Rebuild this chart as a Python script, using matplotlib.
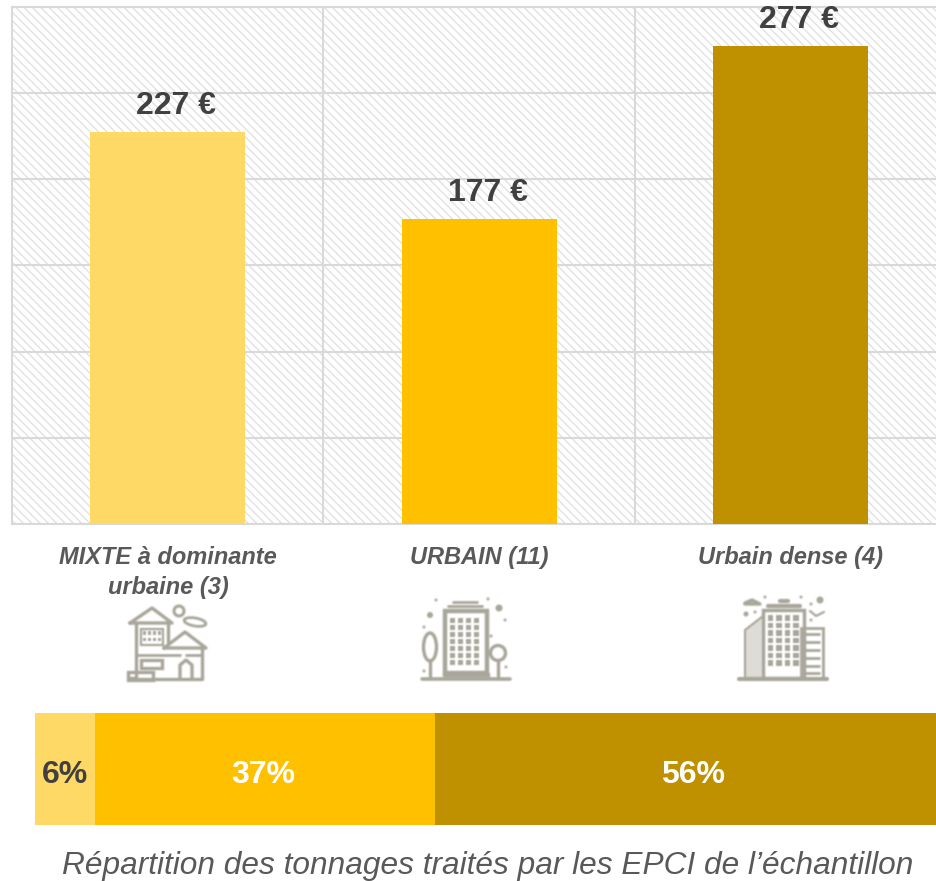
#!/usr/bin/env python

# plot.py
import matplotlib
matplotlib.use("Agg")
import matplotlib.pyplot as plt
import numpy as np
from matplotlib.patches import Circle, Ellipse, Polygon, Rectangle

plt.rcParams["font.family"] = ["Liberation Sans", "DejaVu Sans"]
plt.rcParams["hatch.linewidth"] = 1.0
plt.rcParams["hatch.color"] = "#e2e2e2"

W, H = 937, 881

categories = ["MIXTE à dominante\nurbaine (3)", "URBAIN (11)", "Urbain dense (4)"]
costs = [227, 177, 277]
cost_labels = ["227 €", "177 €", "277 €"]
shares = [6.6, 37.7, 55.7]
share_labels = ["6%", "37%", "56%"]
colors = ["#FFD966", "#FFC000", "#BF9000"]
share_text_colors = ["#404040", "white", "white"]
caption = "Répartition des tonnages traités par les EPCI de l’échantillon"

ICON = "#a9a79b"
GRID = "#d9d9d9"


def px_axes(fig, left, top, right, bottom):
    return fig.add_axes([left / W, 1 - bottom / H, (right - left) / W, (bottom - top) / H])


def line(ax, x, y, lw=2.4):
    ax.plot(x, y, color=ICON, lw=lw, solid_capstyle="round", solid_joinstyle="round")


def box(ax, x, y, w, h, lw=2.4, fill=False):
    ax.add_patch(Rectangle((x, y), w, h, fill=fill, facecolor=ICON, edgecolor=ICON, lw=lw))


def windows(ax, x0, y0, nx, ny, dx, dy, size):
    for i in range(nx):
        for j in range(ny):
            box(ax, x0 + i * dx, y0 + j * dy, size, size, lw=0, fill=True)


def house_icon(ax):
    line(ax, [130, 152, 172, 130], [623, 608, 623, 623])
    line(ax, [136, 136, 128], [623, 678, 678])
    line(ax, [168, 168], [623, 642])
    box(ax, 141, 629, 22, 16, lw=1.6)
    windows(ax, 143, 631, 4, 2, 5, 6.5, 3.5)
    line(ax, [164, 185, 206, 164], [648, 632, 648, 648])
    line(ax, [136, 180], [655, 655], lw=2)
    line(ax, [186, 202], [655, 655], lw=2)
    line(ax, [202, 202, 128], [648, 679, 679])
    box(ax, 141, 660, 21, 8)
    box(ax, 128, 672, 25, 8)
    line(ax, [180, 180, 186, 192, 192], [679, 665, 660, 665, 679])
    ax.add_patch(Circle((179, 611), 5, fill=False, edgecolor=ICON, lw=2.2))
    ax.add_patch(Ellipse((195, 622), 22, 8, angle=10, fill=False, edgecolor=ICON, lw=2))


def tower_icon(ax):
    line(ax, [448, 482], [606, 606], lw=2)
    line(ax, [453, 477], [602, 602], lw=2)
    box(ax, 445, 611, 42, 62, lw=3.2)
    windows(ax, 450, 618, 4, 7, 8, 7, 5)
    line(ax, [422, 510], [679, 679], lw=2.6)
    box(ax, 443, 673, 46, 3, lw=1, fill=True)
    ax.add_patch(Ellipse((430, 647), 13, 28, fill=False, edgecolor=ICON, lw=2.4))
    line(ax, [430, 430], [660, 678])
    ax.add_patch(Circle((498, 653), 7.5, fill=False, edgecolor=ICON, lw=2.4))
    line(ax, [498, 498], [660, 678])
    for x, y, r in [(430, 615, 3), (499, 608, 3.5), (505, 620, 1.5), (491, 636, 1.5), (424, 627, 1.5),
                    (436, 600, 1.5), (488, 599, 1.5), (506, 667, 1.5), (424, 671, 1.5)]:
        ax.add_patch(Circle((x, y), r, color=ICON, lw=0))


def city_icon(ax):
    line(ax, [768, 800], [606, 606], lw=3)
    line(ax, [780, 788], [601, 601], lw=3)
    box(ax, 763, 610, 41, 68, lw=2.5)
    windows(ax, 768, 615, 4, 7, 8.5, 7.5, 5.5)
    ax.add_patch(Polygon([[745, 630], [763, 616], [763, 678], [745, 678]],
                         facecolor="#dddcd6", edgecolor=ICON, lw=1.5))
    box(ax, 801, 628, 22, 50, lw=2)
    for y in [634, 642, 650, 658, 666, 673]:
        line(ax, [805, 819], [y, y], lw=2)
    line(ax, [739, 827], [679, 679], lw=3)
    for x, y, r in [(820, 600, 3.5), (746, 614, 2.5), (755, 612, 1.5), (765, 597, 1.5), (801, 597, 1.5),
                    (811, 604, 1.5), (811, 620, 1.5)]:
        ax.add_patch(Circle((x, y), r, color=ICON, lw=0))
    line(ax, [745, 752, 760, 745], [603, 600, 604, 604], lw=2.4)
    line(ax, [810, 816, 824], [611, 616, 612], lw=1.6)


def blurred_icons():
    # the icons are soft in the original, so draw them apart and blur the pixels
    f = plt.figure(figsize=(W / 100, H / 100), dpi=100, facecolor="white")
    a = f.add_axes([0, 0, 1, 1])
    a.set_xlim(0, W)
    a.set_ylim(H, 0)
    a.axis("off")
    house_icon(a)
    tower_icon(a)
    city_icon(a)
    f.canvas.draw()
    img = np.asarray(f.canvas.buffer_rgba())[:, :, :3].astype(float)
    plt.close(f)
    kernel = np.array([0.25, 0.5, 0.25])
    for axis in (0, 1):
        img = np.apply_along_axis(lambda v: np.convolve(v, kernel, mode="same"), axis, img)
    # drop the strip around the window, convolve darkens the edges
    return img[590:695, 100:850] / 255


fig = plt.figure(figsize=(W / 100, H / 100), dpi=100, facecolor="white")

# main bars, the axes runs a bit past the right edge of the picture like the original
ax = px_axes(fig, 12, 6.5, 946.5, 524)
ax.set_xlim(-0.5, 2.5)
ax.set_ylim(0, 300)
ax.add_patch(Rectangle((0, 0), 1, 1, transform=ax.transAxes, facecolor="white",
                       edgecolor="#e2e2e2", hatch="\\" * 4, lw=0, zorder=0))
ax.set_yticks(range(0, 301, 50))
ax.set_xticks([0.5, 1.5])
ax.grid(True, color=GRID, lw=1.5, zorder=1)
ax.set_axisbelow(False)
ax.tick_params(left=False, bottom=False, labelleft=False, labelbottom=False)
for s in ax.spines.values():
    s.set_color(GRID)
    s.set_linewidth(1.5)
    s.set_clip_on(False)

bars = ax.bar(range(3), costs, width=0.497, color=colors, zorder=3)
for b, lab in zip(bars, cost_labels):
    ax.annotate(lab, (b.get_x() + b.get_width() / 2, b.get_height()), xytext=(6, 8),
                textcoords="offset points", ha="center", va="bottom", fontsize=23,
                fontweight="bold", color="#404040", zorder=4, annotation_clip=False)

# share bar
ax2 = px_axes(fig, 35, 713, 937, 825)
ax2.set_xlim(0, 100)
ax2.set_ylim(0, 1)
ax2.axis("off")
left = 0
for val, col, lab, tc, dx in zip(shares, colors, share_labels, share_text_colors, [0, -1, 5]):
    ax2.barh(0.5, val, left=left, height=1, color=col)
    ax2.annotate(lab, (left + val / 2, 0.5), xytext=(dx, -4.5), textcoords="offset points",
                 ha="center", va="center", fontsize=23, fontweight="bold", color=tc)
    left += val

# text and icons, in picture pixels
ov = fig.add_axes([0, 0, 1, 1])
ov.set_xlim(0, W)
ov.set_ylim(H, 0)
ov.axis("off")
ov.patch.set_alpha(0)
for x, cat in zip([168, 479, 791], categories):
    ov.text(x, 546, cat, ha="center", va="top", fontsize=17, fontstyle="italic",
            fontweight="bold", color="#595959", linespacing=1.4)
ov.text(488, 866, caption, ha="center", va="center", fontsize=22.8, fontstyle="italic",
        color="#595959")
ov.imshow(blurred_icons(), extent=(100, 850, 695, 590), aspect="auto", interpolation="nearest", zorder=0)
ov.set_xlim(0, W)
ov.set_ylim(H, 0)

fig.savefig("out.png", dpi=100)
